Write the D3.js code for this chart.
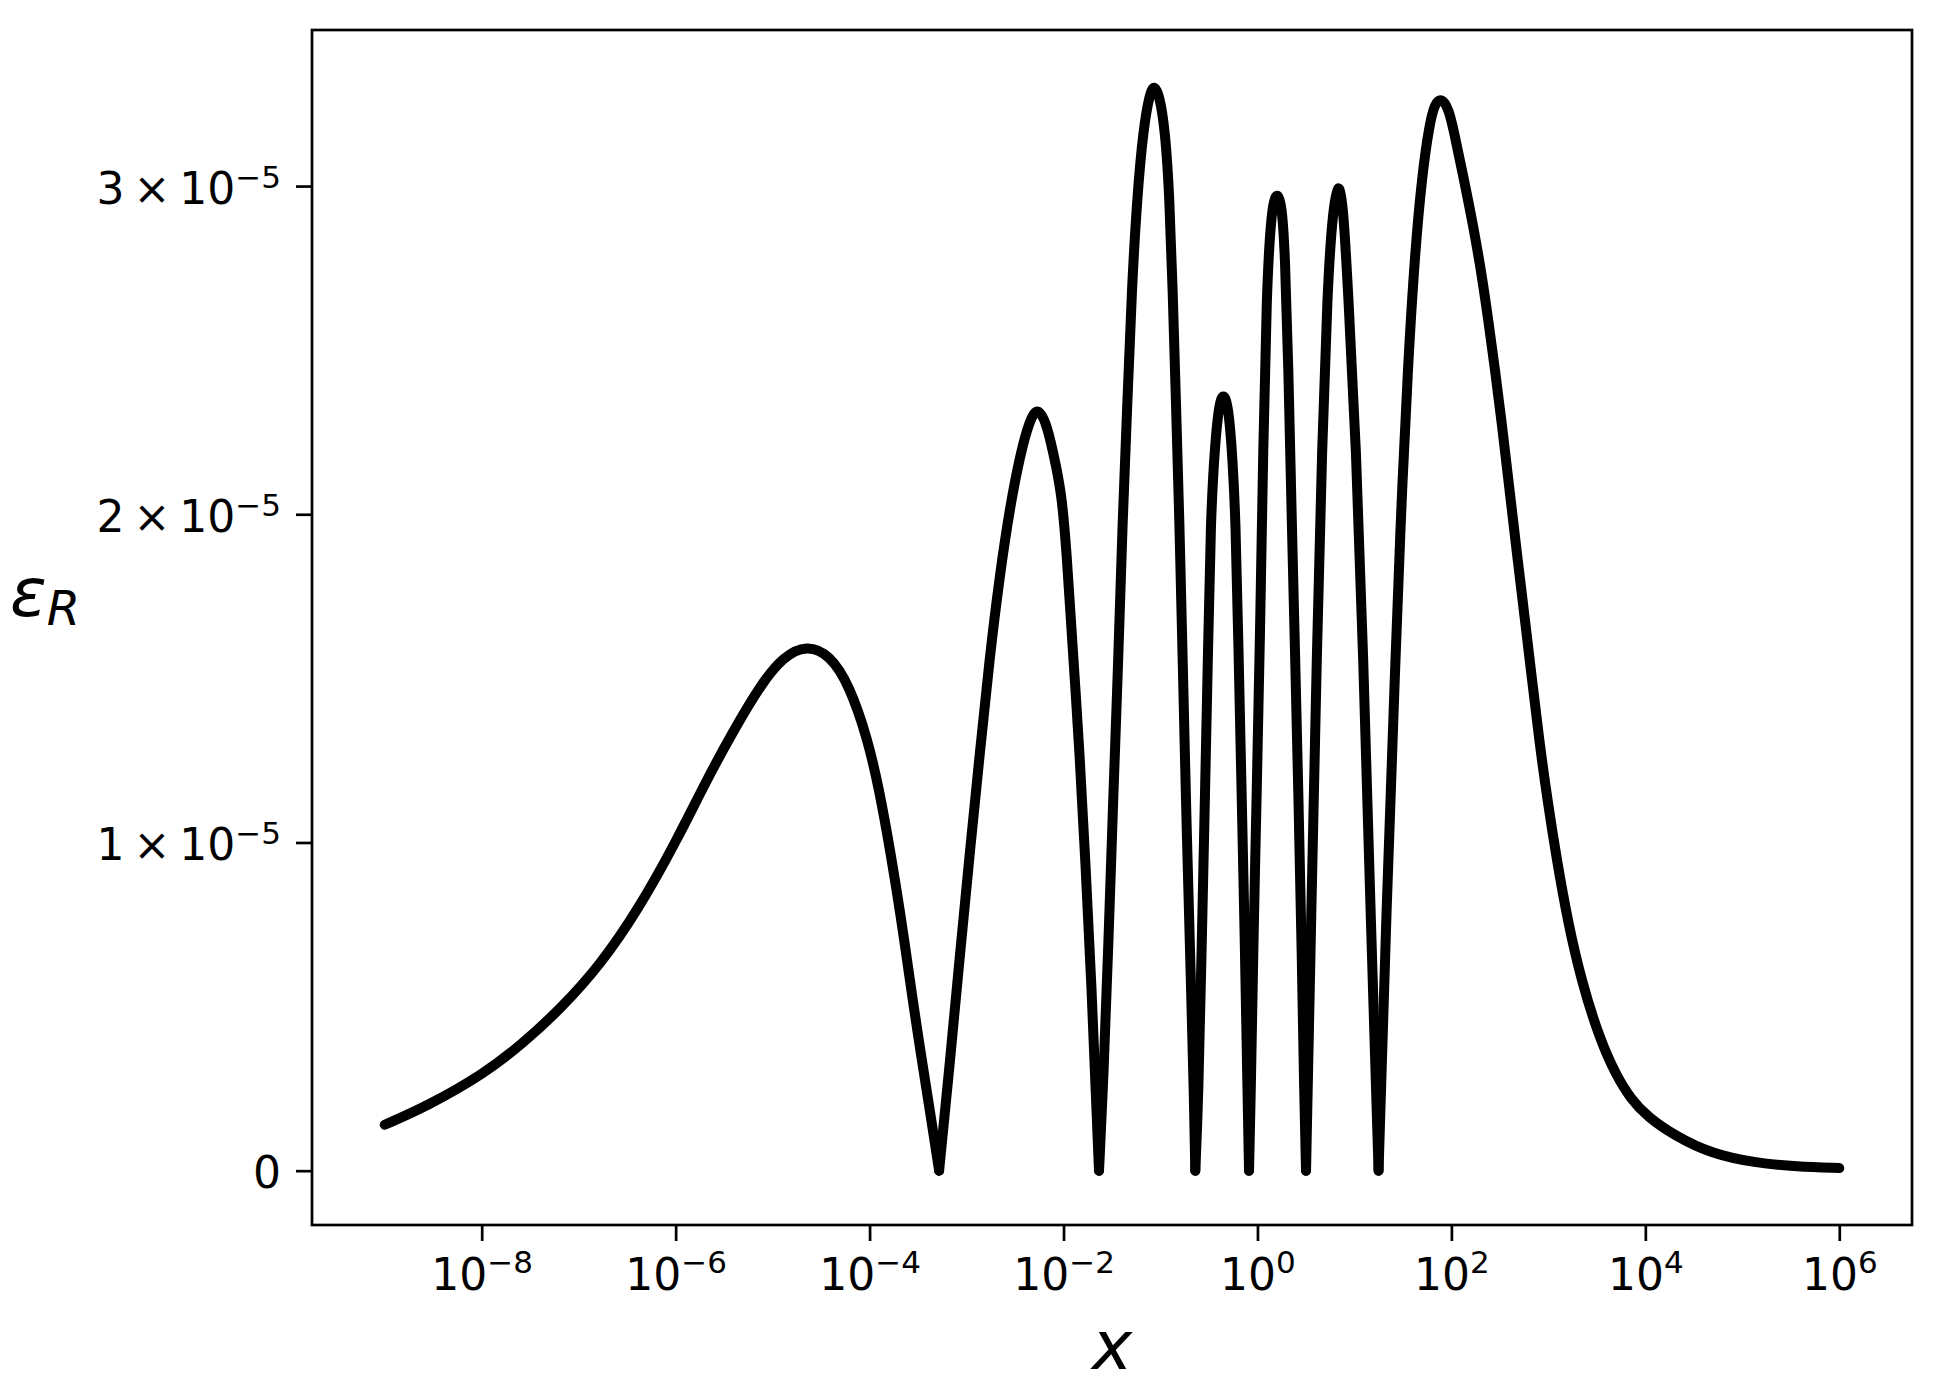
<!DOCTYPE html>
<html>
<head>
<meta charset="utf-8">
<script src="https://cdn.jsdelivr.net/npm/d3@7"></script>
<style>
  html, body { margin: 0; padding: 0; background: #ffffff; }
  svg { display: block; }
</style>
</head>
<body>
<svg id="chart" width="1934" height="1396"></svg>
<script>
// ---- data (x given as log10 exponents, epsilon_R in units of 1e-5) ----
const xExponents = [
  -9.00, -8.56, -7.97, -7.57, -7.18, -6.78, -6.39, -5.99, -5.68, -5.40, -5.12, -4.89,
  -4.65, -4.41, -4.21, -4.02, -3.90, -3.784, -3.68, -3.594, -3.50, -3.403, -3.283,
  -3.171, -3.068, -2.965, -2.861, -2.765, -2.655, -2.552, -2.449, -2.346, -2.267,
  -2.174, -2.071, -2.016, -1.967, -1.927, -1.880, -1.838, -1.774, -1.710, -1.660, -1.634,
  -1.589, -1.538, -1.486, -1.435, -1.391, -1.342, -1.297, -1.239, -1.177, -1.115,
  -1.067, -1.012, -0.953, -0.908, -0.874, -0.840, -0.805, -0.771, -0.730, -0.685,
  -0.654, -0.641,
  -0.610, -0.575, -0.541, -0.507, -0.483, -0.438, -0.394, -0.352, -0.307, -0.266,
  -0.224, -0.198, -0.163, -0.129, -0.101, -0.087,
  -0.070, -0.043, -0.008, 0.026, 0.060, 0.095, 0.137, 0.171, 0.209, 0.250, 0.284,
  0.319, 0.353, 0.387, 0.422, 0.456, 0.483, 0.501,
  0.556, 0.612, 0.667, 0.722, 0.770, 0.833, 0.888, 0.933, 1.017, 1.090, 1.165, 1.249,
  1.330, 1.423, 1.477, 1.551, 1.625, 1.698, 1.772, 1.827, 1.901, 1.974, 2.020, 2.124,
  2.227, 2.313, 2.381, 2.450, 2.519, 2.601, 2.680, 2.754, 2.830, 2.906, 2.990, 3.085,
  3.200, 3.339, 3.530, 3.700, 3.847, 4.018, 4.313, 4.681, 5.124, 5.565, 6.000
];
const epsR = [
  0.140, 0.197, 0.296, 0.389, 0.495, 0.626, 0.793, 1.005, 1.191, 1.342, 1.482, 1.566,
  1.602, 1.572, 1.480, 1.316, 1.160, 0.970, 0.780, 0.600, 0.410, 0.230, 0,
  0.331, 0.659, 0.974, 1.278, 1.556, 1.821, 2.022, 2.180, 2.290, 2.327,
  2.280, 2.140, 2.050, 1.880, 1.690, 1.480, 1.290, 0.940, 0.560, 0.180, 0,
  0.273, 0.682, 1.149, 1.556, 1.984, 2.334, 2.684, 2.975, 3.173, 3.278,
  3.310, 3.278, 3.173, 2.975, 2.684, 2.334, 1.984, 1.556, 1.032, 0.565,
  0.214, 0,
  0.214, 0.682, 1.149, 1.617, 1.984, 2.217, 2.340, 2.368, 2.340, 2.217,
  1.984, 1.617, 1.149, 0.682, 0.214, 0,
  0.214, 0.682, 1.149, 1.617, 2.217, 2.684, 2.894, 2.962, 2.978, 2.944, 2.800,
  2.451, 1.984, 1.590, 1.149, 0.682, 0.214, 0,
  0.800, 1.580, 2.217, 2.684, 2.905, 3.030, 2.930, 2.684, 2.217, 1.580, 0.800, 0,
  0.800, 1.556, 1.984, 2.451, 2.800, 3.034, 3.185, 3.252, 3.270, 3.232, 3.175, 3.028,
  2.876, 2.730, 2.590, 2.440, 2.280, 2.070, 1.870, 1.690, 1.500, 1.310, 1.130, 0.950,
  0.760, 0.580, 0.400, 0.290, 0.220, 0.165, 0.105, 0.052, 0.024, 0.012, 0.008
];
const xTickExponents = [-8, -6, -4, -2, 0, 2, 4, 6];
const yTickValues = [0, 1, 2, 3];
const yTickMantissas = ["0", "1", "2", "3"];
const yTickPower = "\u22125";
const xLabel = "x";
const yLabelMain = "\u03b5";
const yLabelSub = "R";

// ---- layout ----
const M = { left: 312, right: 1912, top: 30, bottom: 1225 };
const FONT = "'DejaVu Sans', 'Liberation Sans', sans-serif";
const svg = d3.select("#chart");

const points = xExponents.map((e, i) => ({ x: Math.pow(10, e), y: epsR[i] }));

const ex = d3.extent(xExponents), exSpan = ex[1] - ex[0];
const x = d3.scaleLog()
  .domain([Math.pow(10, ex[0] - 0.05 * exSpan), Math.pow(10, ex[1] + 0.05 * exSpan)])
  .range([M.left, M.right]);
const ey = d3.extent(epsR), eySpan = ey[1] - ey[0];
const y = d3.scaleLinear()
  .domain([ey[0] - 0.05 * eySpan, ey[1] + 0.05 * eySpan])
  .range([M.bottom, M.top]);

// ---- curve: split at zeros so the V bottoms stay sharp ----
const segments = [];
let cur = [];
points.forEach((p, i) => {
  cur.push(p);
  if (p.y === 0 && i > 0 && i < points.length - 1) {
    segments.push(cur);
    cur = [p];
  }
});
if (cur.length) segments.push(cur);

const line = d3.line().x(d => x(d.x)).y(d => y(d.y)).curve(d3.curveBasis);
svg.append("g").selectAll("path").data(segments).join("path")
  .attr("d", line)
  .attr("fill", "none")
  .attr("stroke", "#000")
  .attr("stroke-width", 10)
  .attr("stroke-linejoin", "round")
  .attr("stroke-linecap", "round");

// ---- x axis ----
const gx = svg.append("g")
  .attr("transform", `translate(0,${M.bottom})`)
  .call(d3.axisBottom(x)
    .tickValues(xTickExponents.map(e => Math.pow(10, e)))
    .tickSize(16).tickSizeOuter(0).tickFormat(() => ""));
gx.select(".domain").remove();
gx.attr("font-family", FONT).attr("font-size", 44);
gx.selectAll(".tick line").attr("stroke", "#000").attr("stroke-width", 2.7);
gx.selectAll(".tick text").each(function (d, i) {
  const t = d3.select(this);
  t.text(null).attr("y", 65).attr("dy", null).attr("fill", "#000")
   .attr("text-anchor", "middle");
  t.append("tspan").text("10");
  const e = xTickExponents[i];
  t.append("tspan").attr("font-size", 31).attr("dy", -17)
   .text(e < 0 ? "\u2212" + Math.abs(e) : String(e));
});

// ---- y axis ----
const gy = svg.append("g")
  .attr("transform", `translate(${M.left},0)`)
  .call(d3.axisLeft(y).tickValues(yTickValues).tickSize(16).tickSizeOuter(0).tickFormat(() => ""));
gy.select(".domain").remove();
gy.attr("font-family", FONT).attr("font-size", 44);
gy.selectAll(".tick line").attr("stroke", "#000").attr("stroke-width", 2.7);
gy.selectAll(".tick text").each(function (d, i) {
  const t = d3.select(this);
  t.text(null).attr("x", -31).attr("y", 17).attr("dy", null).attr("fill", "#000")
   .attr("text-anchor", "end");
  t.append("tspan").text(yTickMantissas[i]);
  if (yTickValues[i] !== 0) {
    t.append("tspan").attr("dx", 9).text("\u00d7");
    t.append("tspan").attr("dx", 9).text("10");
    t.append("tspan").attr("font-size", 31).attr("dy", -16).text(yTickPower);
  }
});

// ---- frame ----
svg.append("rect")
  .attr("x", M.left).attr("y", M.top)
  .attr("width", M.right - M.left).attr("height", M.bottom - M.top)
  .attr("fill", "none").attr("stroke", "#000").attr("stroke-width", 2.7);

// ---- axis labels ----
svg.append("text")
  .attr("x", (M.left + M.right) / 2).attr("y", 1369)
  .attr("text-anchor", "middle")
  .attr("font-family", FONT).attr("font-style", "italic").attr("font-size", 68)
  .attr("fill", "#000")
  .text(xLabel);

const yl = svg.append("text")
  .attr("x", 10).attr("y", 616)
  .attr("font-family", FONT).attr("font-style", "italic").attr("font-size", 68)
  .attr("fill", "#000");
yl.append("tspan").text(yLabelMain);
yl.append("tspan").attr("font-size", 48).attr("dy", 9).text(yLabelSub);
</script>
</body>
</html>
